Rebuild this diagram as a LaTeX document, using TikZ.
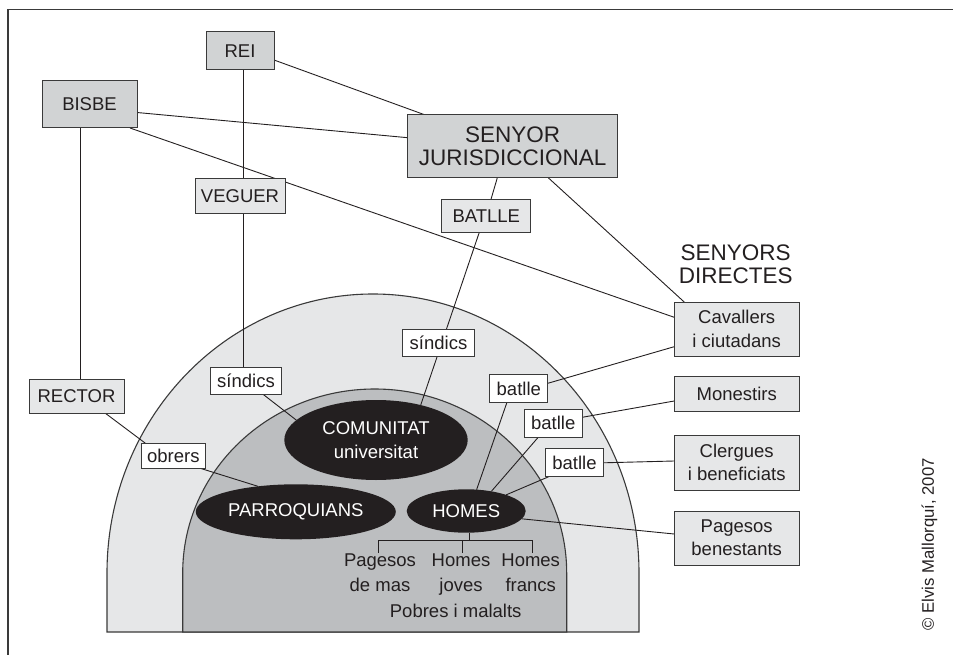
\documentclass[tikz,border=0pt]{standalone}
\usepackage{fontspec}
\setmainfont{Liberation Sans}
\usetikzlibrary{calc,shapes.geometric}
\definecolor{outerfill}{HTML}{E6E7E8}
\definecolor{innerfill}{HTML}{BCBEC0}
\definecolor{darkbox}{HTML}{D1D3D4}
\definecolor{lightbox}{HTML}{E6E7E8}
\definecolor{ink}{HTML}{231F20}
\definecolor{edge}{HTML}{3A3A3A}
\pgfdeclarelayer{arches}
\pgfdeclarelayer{links}
\pgfsetlayers{arches,links,main}
\begin{document}
\begin{tikzpicture}[x=1pt,y=-1pt,
  every node/.style={inner sep=0pt, outer sep=0pt, text=ink},
  box/.style={draw=edge, line width=1pt, rectangle, align=center, font=\fontsize{18.5}{23.3}\selectfont},
  darkb/.style={box, fill=darkbox},
  lightb/.style={box, fill=lightbox},
  tagb/.style={box, fill=white},
  blob/.style={ellipse, fill=ink, text=white, align=center, font=\fontsize{18.5}{23.3}\selectfont},
  link/.style={draw=ink, line width=0.9pt},
  plain/.style={align=center, font=\fontsize{18.5}{25}\selectfont},
  big/.style={font=\fontsize{22.5}{23}\selectfont}
]
\useasboundingbox (0,0) rectangle (953,655);

% frame
\draw[edge, line width=1.6pt] (953,9.5) -- (8,9.5) -- (8,655);

% arches
\begin{pgfonlayer}{arches}
\draw[draw=edge, line width=1.1pt, fill=outerfill] (107,632) -- (107,573)
  arc[start angle=180, end angle=0, x radius=266pt, y radius=279pt] -- (639,632) -- cycle;
\draw[draw=edge, line width=1.1pt, fill=innerfill] (182.7,632) -- (182.7,573)
  arc[start angle=180, end angle=0, x radius=192pt, y radius=184pt] -- (566.7,632) -- cycle;
\end{pgfonlayer}

% top boxes
\node[darkb, minimum width=68, minimum height=38] (rei) at (240,51) {REI};
\node[darkb, minimum width=95, minimum height=47] (bisbe) at (89.5,104.5) {BISBE};
\node[darkb, minimum width=210, minimum height=63, big] (senyor) at (512.7,146.3) {SENYOR\\JURISDICCIONAL};
\node[lightb, minimum width=90, minimum height=35] (veguer) at (240,196.5) {VEGUER};
\node[lightb, minimum width=89, minimum height=33] (batlleB) at (486.3,215.8) {BATLLE};
\node[lightb, minimum width=95, minimum height=34] (rector) at (76.5,396) {RECTOR};

% right column
\node[big, align=center] (sd) at (735.7,264.4) {SENYORS\\DIRECTES};
\node[lightb, minimum width=125, minimum height=54] (cav) at (736.7,329) {Cavallers\\i ciutadans};
\node[lightb, minimum width=125, minimum height=35] (mon) at (736.7,393.8) {Monestirs};
\node[lightb, minimum width=125, minimum height=55] (cler) at (736.7,462.5) {Clergues\\i beneficiats};
\node[lightb, minimum width=125, minimum height=54] (pag) at (736.7,538) {Pagesos\\benestants};

% small tags
\node[tagb, minimum width=71, minimum height=27] (sindicsA) at (246,381) {síndics};
\node[tagb, minimum width=72, minimum height=27] (sindicsB) at (438.5,343) {síndics};
\node[tagb, minimum width=64, minimum height=25] (obrers) at (173.3,455.7) {obrers};
\node[tagb, minimum width=58, minimum height=28] (batlle1) at (518.8,388.8) {batlle};
\node[tagb, minimum width=58, minimum height=28] (batlle2) at (553.2,423.3) {batlle};
\node[tagb, minimum width=58, minimum height=28] (batlle3) at (574.5,462.8) {batlle};

% ellipses
\node[blob, minimum width=183.4, minimum height=80] (comunitat) at (376,440) {COMUNITAT\\universitat};
\node[blob, minimum width=200, minimum height=55] (parroquians) at (295.8,511.8) {PARROQUIANS};
\node[blob, minimum width=119, minimum height=43.4] (homes) at (466.2,511) {HOMES};

% bottom texts
\node[plain] (pagmas) at (380,572.9) {Pagesos\\de mas};
\node[plain] (hjoves) at (461,574.9) {Homes\\joves};
\node[plain] (hfrancs) at (530.7,572.9) {Homes\\francs};
\node[plain, anchor=base] (pobres) at (455.7,617) {Pobres i malalts};

% copyright
\node[rotate=90, font=\fontsize{16.7}{20}\selectfont] (copy) at (929.5,544.2) {© Elvis Mallorquí, 2007};

% connectors
\begin{pgfonlayer}{links}
\draw[link] ($(rei.south east)+(0,-10)$) -- ($(senyor.north west)+(17,0)$);
\draw[link] ($(bisbe.east)+(0,8)$) -- ($(senyor.west)+(0,-8.6)$);
\draw[link] ($(bisbe.south east)+(-7,0)$) -- ($(cav.west)+(0,-11.7)$);
\coordinate (bx) at (80,0);
\draw[link] (bx |- bisbe.south) -- (bx |- rector.north);
\coordinate (vx) at (243,0);
\draw[link] (vx |- rei.south) -- (vx |- sindicsA.north);
\draw[link] ($(senyor.south)+(-15.4,0)$) -- ($(batlleB.north)+(4.7,0)$);
\draw[link] ($(batlleB.south)+(-7,0)$) -- (comunitat.38);
\draw[link] ($(sindicsA.south)+(17.3,0)$) -- (comunitat.166);
\draw[link] ($(rector.south)+(28.5,0)$) -- ($(obrers.north west)+(4,0)$);
\draw[link] ($(obrers.south)+(26.7,0)$) -- (parroquians.146);
\draw[link] ($(batlle1.south)+(-12,0)$) -- (homes.64);
\draw[link] ($(batlle2.south)+(-15,0)$) -- (homes.38);
\draw[link] ($(batlle3.south west)+(3,0)$) -- (homes.22);
\draw[link] ($(batlle1.east)+(0,-5.5)$) -- ($(cav.west)+(0,17.7)$);
\draw[link] ($(batlle2.east)+(0,-6)$) -- ($(mon.west)+(0,7.2)$);
\draw[link] (batlle3.east) -- ($(cler.west)+(0,-1.5)$);
\draw[link] (homes.-8) -- ($(pag.west)+(0,-4)$);
\draw[link] ($(senyor.south)+(35.6,0)$) -- ($(cav.north west)+(10,0)$);
% bracket under HOMES
\coordinate (hb) at (469,540.7);
\coordinate (t1) at (378.3,552.7);
\coordinate (t2) at (462.7,552.7);
\coordinate (t3) at (532.7,552.7);
\draw[link] (homes.south -| hb) -- (hb);
\draw[link] (t1) -- (t1 |- hb) -- (t3 |- hb) -- (t3);
\draw[link] (t2) -- (t2 |- hb);
\end{pgfonlayer}
\end{tikzpicture}
\end{document}
